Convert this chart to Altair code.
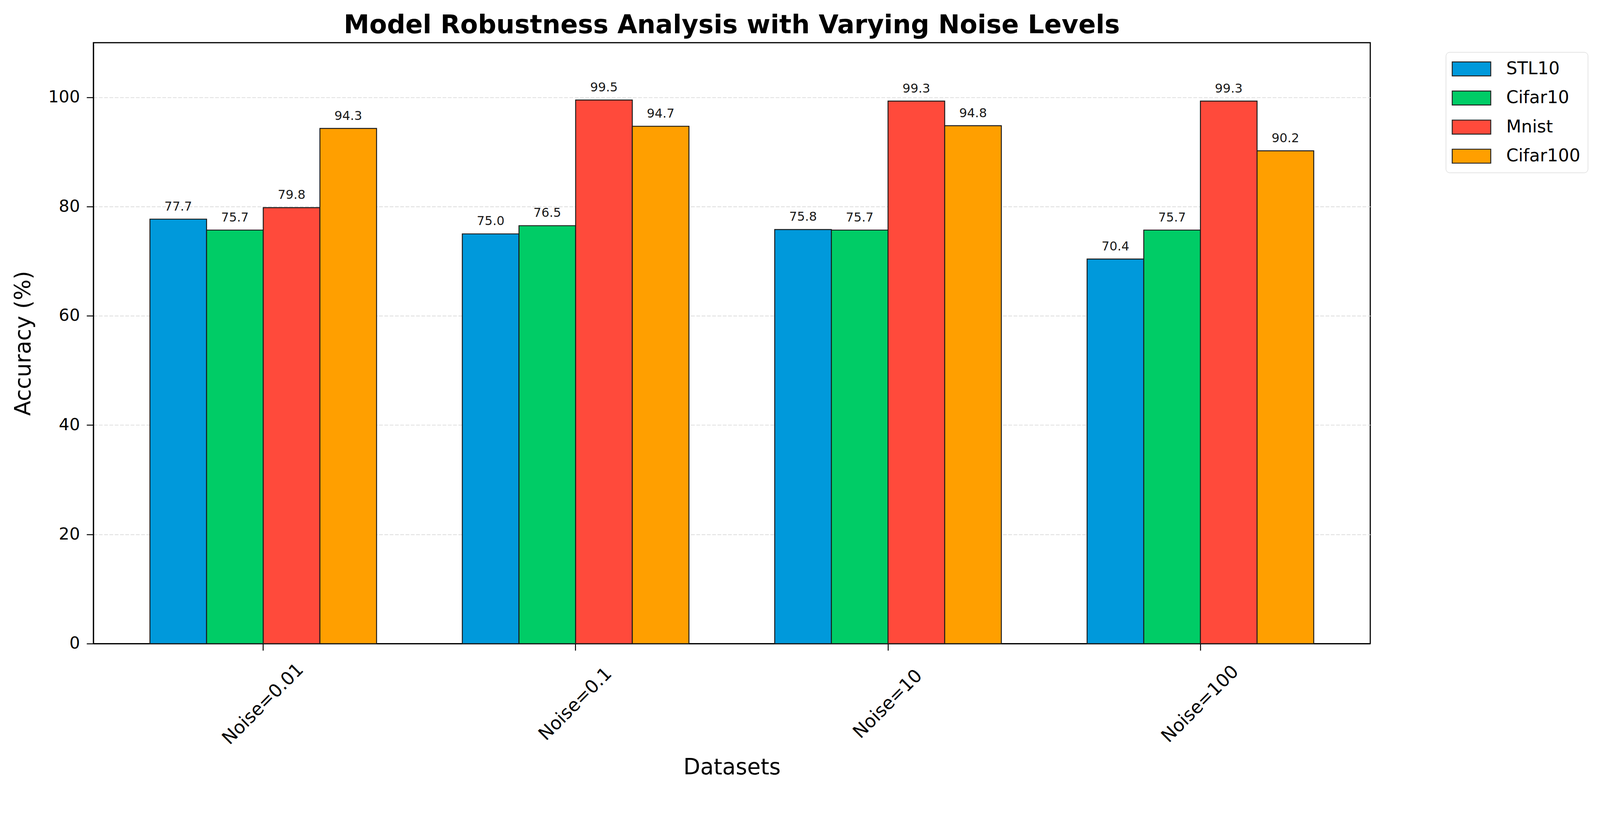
import altair as alt
import pandas as pd

categories = ["Noise=0.01", "Noise=0.1", "Noise=10", "Noise=100"]
series = ["STL10", "Cifar10", "Mnist", "Cifar100"]
stl10 = [77.7, 75.0, 75.8, 70.4]
cifar10 = [75.7, 76.5, 75.7, 75.7]
mnist = [79.8, 99.5, 99.3, 99.3]
cifar100 = [94.3, 94.7, 94.8, 90.2]
colors = ["#0099DB", "#00CC66", "#FF4A3B", "#FF9F00"]
y_ticks = [0, 20, 40, 60, 80, 100]

values = {"STL10": stl10, "Cifar10": cifar10, "Mnist": mnist, "Cifar100": cifar100}
rows = []
for s in series:
    for c, v in zip(categories, values[s]):
        rows.append({"Noise": c, "Dataset": s, "Accuracy": v, "Label": f"{v:.1f}"})
df = pd.DataFrame(rows)

FONT = "DejaVu Sans"

x_enc = alt.X(
    "Noise:N",
    sort=categories,
    scale=alt.Scale(paddingInner=0.2745, paddingOuter=0.181),
    axis=alt.Axis(
        title="Datasets",
        titleFont=FONT,
        titleFontSize=58,
        titleFontWeight="normal",
        titleColor="#000",
        titleBaseline="alphabetic",
        titleY=346,
        labelAngle=-45,
        labelAlign="center",
        labelBaseline="middle",
        labelPadding=142,
        labelLimit=2000,
        labelFont=FONT,
        labelFontSize=48,
        labelColor="#000",
        tickSize=18,
        tickWidth=2.5,
        tickColor="#000",
        domainColor="#000",
        domainWidth=3,
        grid=False,
    ),
)
xoff_enc = alt.XOffset("Dataset:N", sort=series, scale=alt.Scale(paddingInner=0, paddingOuter=0))

y_enc = alt.Y(
    "Accuracy:Q",
    scale=alt.Scale(domain=[0, 110], nice=False),
    axis=alt.Axis(
        values=y_ticks,
        title="Accuracy (%)",
        titleFont=FONT,
        titleFontSize=58,
        titleFontWeight="normal",
        titleColor="#000",
        titleBaseline="alphabetic",
        titleX=-167,
        labelFont=FONT,
        labelFontSize=44,
        labelColor="#000",
        labelPadding=18,
        tickSize=18,
        tickWidth=2.5,
        tickColor="#000",
        domainColor="#000",
        domainWidth=3,
        grid=True,
        gridColor="#dcdcdc",
        gridDash=[10, 4],
        gridWidth=2,
    ),
)

color_enc = alt.Color(
    "Dataset:N",
    sort=series,
    scale=alt.Scale(domain=series, range=colors),
    legend=alt.Legend(
        title=None,
        orient="none",
        legendX=3581,
        legendY=25,
        padding=19.5,
        rowPadding=28,
        symbolType="M-2.17,-0.787H2.17V0.787H-2.17Z",
        symbolSize=2209,
        symbolStrokeColor="#222",
        symbolStrokeWidth=2.5,
        symbolOpacity=1,
        symbolOffset=23.5,
        labelOffset=67,
        labelLimit=2000,
        labelFont=FONT,
        labelFontSize=46,
        labelColor="#000",
        strokeColor="#c8c8c8",
        cornerRadius=10,
        fillColor="#ffffff",
    ),
)

base = alt.Chart(df).encode(x=x_enc, xOffset=xoff_enc)

bars = base.mark_bar(stroke="#1a1a1a", strokeWidth=2.5, opacity=1).encode(
    y=y_enc, color=color_enc
)

labels = base.mark_text(
    baseline="alphabetic", dy=-23, fontSize=33, font=FONT, color="#1a1a1a"
).encode(y=alt.Y("Accuracy:Q"), text="Label:N")

chart = (
    alt.layer(bars, labels)
    .properties(
        width=3381,
        height=1591,
        title=alt.TitleParams(
            "Model Robustness Analysis with Varying Noise Levels",
            font=FONT,
            fontSize=68,
            fontWeight="bold",
            color="#000",
            anchor="middle",
            baseline="alphabetic",
            offset=-43,
        ),
        autosize=alt.AutoSizeParams(type="none"),
        padding={"left": 239, "top": 70, "right": 600, "bottom": 360},
    )
    .configure(background="#ffffff")
    .configure_view(stroke="#000", strokeWidth=3)
)

chart.save("out.html", embed_options={"renderer": "svg", "actions": False})
